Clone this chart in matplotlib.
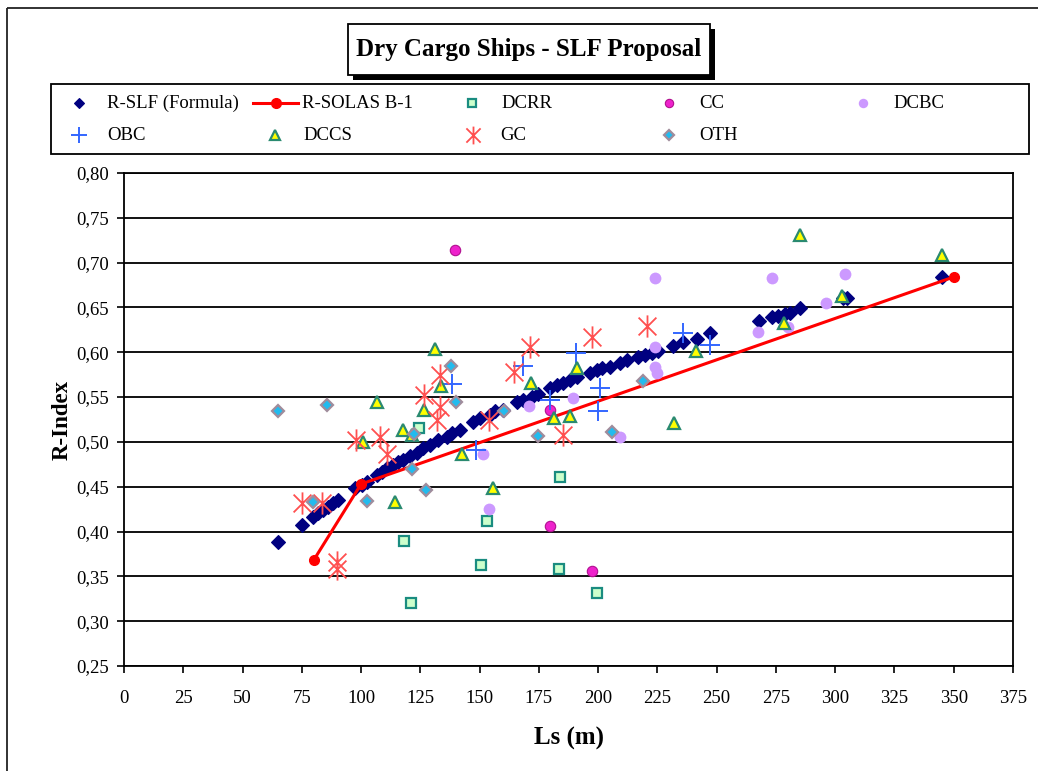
import numpy as np
import matplotlib
matplotlib.use("Agg")
import matplotlib.pyplot as plt
from matplotlib.path import Path
from matplotlib.patches import Rectangle
from matplotlib.lines import Line2D

plt.rcParams['font.family'] = ['Liberation Serif', 'DejaVu Serif']

# ---- data -------------------------------------------------------------
slf_ls = [65.0, 75.1, 79.7, 81.9, 84.0, 86.1, 88.2, 90.3, 97.5, 100.4, 102.5,
          106.8, 108.9, 111.0, 113.5, 115.6, 117.7, 120.7, 123.6, 126.2, 129.1,
          132.5, 136.3, 138.4, 141.8, 147.3, 150.2, 154.4, 156.5, 159.9, 165.8,
          168.4, 172.2, 174.7, 179.7, 182.7, 185.2, 188.2, 191.1, 196.6, 199.6,
          201.7, 205.1, 209.3, 212.2, 216.9, 219.8, 222.8, 225.3, 231.6, 235.9,
          241.8, 247.3, 267.9, 273.4, 275.9, 278.9, 281.0, 285.2, 303.4, 305.1,
          345.1]
slf_r = [0.388, 0.407, 0.416, 0.421, 0.424, 0.427, 0.432, 0.435, 0.449, 0.452,
         0.455, 0.463, 0.466, 0.471, 0.474, 0.478, 0.480, 0.484, 0.488, 0.493,
         0.497, 0.502, 0.506, 0.510, 0.513, 0.522, 0.527, 0.530, 0.534, 0.536,
         0.544, 0.547, 0.550, 0.554, 0.560, 0.563, 0.566, 0.569, 0.572, 0.577,
         0.580, 0.583, 0.584, 0.588, 0.591, 0.595, 0.597, 0.599, 0.601, 0.607,
         0.611, 0.615, 0.621, 0.635, 0.639, 0.641, 0.643, 0.644, 0.649, 0.661,
         0.661, 0.684]

solas_ls = [80, 100, 350]
solas_r = [0.368, 0.453, 0.684]

dcrr_ls = [124.6, 184.0, 153.3, 118.1, 150.6, 183.3, 120.9, 199.7]
dcrr_r = [0.516, 0.461, 0.412, 0.389, 0.363, 0.358, 0.320, 0.331]

cc_ls = [139.7, 179.7, 179.7, 197.6]
cc_r = [0.714, 0.536, 0.406, 0.356]

dcbc_ls = [151.3, 154.1, 170.9, 189.3, 209.3, 224.1, 224.1, 224.1, 224.8,
           267.6, 273.3, 280.0, 296.2, 304.2]
dcbc_r = [0.487, 0.425, 0.540, 0.549, 0.505, 0.683, 0.606, 0.584, 0.577,
          0.623, 0.683, 0.628, 0.655, 0.687]

obc_ls = [138.3, 148.5, 168.5, 179.7, 190.7, 200.8, 200.1, 236.0, 247.3]
obc_r = [0.565, 0.491, 0.585, 0.547, 0.599, 0.560, 0.535, 0.622, 0.608]

dccs_ls = [101.0, 106.7, 114.3, 117.6, 121.4, 126.6, 131.2, 133.8, 142.4,
           155.8, 171.7, 181.2, 188.2, 191.0, 231.8, 241.4, 278.6, 285.2,
           302.8, 345.0]
dccs_r = [0.500, 0.544, 0.433, 0.513, 0.508, 0.536, 0.604, 0.562, 0.487,
          0.449, 0.566, 0.527, 0.529, 0.583, 0.521, 0.601, 0.633, 0.731,
          0.663, 0.708]

gc_ls = [75.0, 83.4, 90.0, 90.0, 97.9, 108.0, 110.8, 126.4, 131.9, 133.1,
         133.3, 154.1, 164.3, 171.3, 185.1, 197.3, 220.5]
gc_r = [0.432, 0.432, 0.366, 0.358, 0.502, 0.506, 0.487, 0.552, 0.525, 0.539,
        0.575, 0.525, 0.578, 0.606, 0.508, 0.617, 0.629]

oth_ls = [65.1, 85.8, 79.9, 102.4, 137.8, 139.9, 122.5, 121.4, 127.3, 160.1,
          174.5, 218.9, 205.8]
oth_r = [0.535, 0.541, 0.433, 0.434, 0.585, 0.545, 0.509, 0.470, 0.446,
         0.535, 0.507, 0.568, 0.511]

x_ticks = list(range(0, 376, 25))
y_ticks = [0.25, 0.30, 0.35, 0.40, 0.45, 0.50, 0.55, 0.60, 0.65, 0.70, 0.75, 0.80]

# ---- marker styles ----------------------------------------------------
star_path = Path([(-1, -1), (1, 1), (-1, 1), (1, -1), (0, -1.25), (0, 1.25)],
                 [Path.MOVETO, Path.LINETO, Path.MOVETO, Path.LINETO,
                  Path.MOVETO, Path.LINETO])

styles = {
    'R-SLF (Formula)': dict(marker='D', ms=6.9, mfc='#000080', mec='#000080',
                            mew=0.8, ls='none'),
    'R-SOLAS B-1': dict(marker='o', ms=7, mfc='#ff0000', mec='#ff0000',
                        color='#ff0000', lw=2.2),
    'DCRR': dict(marker='s', ms=7, mfc='#ccffcc', mec='#1a8c80', mew=1.6,
                 ls='none'),
    'CC': dict(marker='o', ms=7.5, mfc='#ee22cc', mec='#b0108f', mew=0.8,
               ls='none'),
    'DCBC': dict(marker='o', ms=8.5, mfc='#cc99ff', mec='#cc99ff', mew=0,
                 ls='none'),
    'OBC': dict(marker='+', ms=15, mfc='none', mec='#3366ff', mew=1.4,
                ls='none'),
    'DCCS': dict(marker='^', ms=9, mfc='#ffff00', mec='#2a8a70', mew=1.6,
                 ls='none'),
    'GC': dict(marker=star_path, ms=16, mfc='none', mec='#ff5050', mew=1.3,
               ls='none'),
    'OTH': dict(marker='D', ms=6.2, mfc='#22bbee', mec='#a08c9c', mew=1.6,
                ls='none'),
}

W, H = 1038, 771
fig = plt.figure(figsize=(W / 100, H / 100), dpi=100)
ax = fig.add_axes([124 / W, 1 - 666 / H, 889 / W, 493 / H])

ax.plot(slf_ls, slf_r, **styles['R-SLF (Formula)'])
ax.plot(solas_ls, solas_r, **styles['R-SOLAS B-1'])
ax.plot(dcrr_ls, dcrr_r, **styles['DCRR'])
ax.plot(cc_ls, cc_r, **styles['CC'])
ax.plot(dcbc_ls, dcbc_r, **styles['DCBC'])
ax.plot(obc_ls, obc_r, **styles['OBC'])
ax.plot(dccs_ls, dccs_r, **styles['DCCS'])
ax.plot(gc_ls, gc_r, **styles['GC'])
ax.plot(oth_ls, oth_r, **styles['OTH'])

ax.set_xlim(0, 375)
ax.set_ylim(0.25, 0.80)
ax.set_xticks(x_ticks)
ax.set_xticklabels([str(v) for v in x_ticks])
ax.set_yticks(y_ticks)
ax.set_yticklabels([f"{v:.2f}".replace('.', ',') for v in y_ticks])
ax.tick_params(axis='both', direction='out', length=5, width=1.2,
               labelsize=13.5, color='black', pad=6)
ax.tick_params(axis='x', pad=12)
ax.yaxis.grid(True, color='#111111', lw=1.4)
ax.set_axisbelow(True)
for side in ['left', 'right', 'bottom', 'top']:
    ax.spines[side].set_linewidth(1.3)
    ax.spines[side].set_color('black')

ax.set_xlabel('Ls (m)', fontsize=18, fontweight='bold')
ax.set_ylabel('R-Index', fontsize=16.5, fontweight='bold')
ax.xaxis.set_label_coords(0.5, -0.146)
ax.xaxis.label.set_va('center')
ax.yaxis.set_label_coords(-0.07, 0.5)
ax.yaxis.label.set_va('center')

# ---- decorations in pixel coordinates ---------------------------------
ov = fig.add_axes([0, 0, 1, 1])
ov.set_xlim(0, W)
ov.set_ylim(H, 0)
ov.axis('off')
ov.patch.set_alpha(0)

# outer frame
ov.add_patch(Rectangle((7, 8), W + 20, H + 20, fill=False, ec='#222222',
                       lw=1.3))

# title box with drop shadow
ov.add_patch(Rectangle((353, 29), 362, 51, fc='black', ec='black', lw=0))
ov.add_patch(Rectangle((348, 24), 362, 51, fc='white', ec='black', lw=1.3))
ov.text(529, 49.5, 'Dry Cargo Ships - SLF Proposal', fontsize=18,
        fontweight='bold', ha='center', va='center')

# legend
ov.add_patch(Rectangle((51, 84), 978, 70, fc='white', ec='black', lw=1.3))
legend_items = [
    ('R-SLF (Formula)', 79, 103, 107),
    ('R-SOLAS B-1', 275.5, 103, 302),
    ('DCRR', 472, 103, 501),
    ('CC', 669, 103, 699),
    ('DCBC', 863, 103, 893),
    ('OBC', 79, 135, 107),
    ('DCCS', 275, 135, 303),
    ('GC', 473, 135, 500),
    ('OTH', 669, 135, 699),
]
for name, mx, my, tx in legend_items:
    st = dict(styles[name])
    if name == 'R-SOLAS B-1':
        ov.add_line(Line2D([253, mx, 298], [my, my, my], markevery=[1], **st))
    else:
        st['ms'] = st['ms'] * 0.8
        ov.add_line(Line2D([mx], [my], **st))
    ov.text(tx, my, name, fontsize=13.5, ha='left', va='center')

fig.savefig('out.png', dpi=100)
